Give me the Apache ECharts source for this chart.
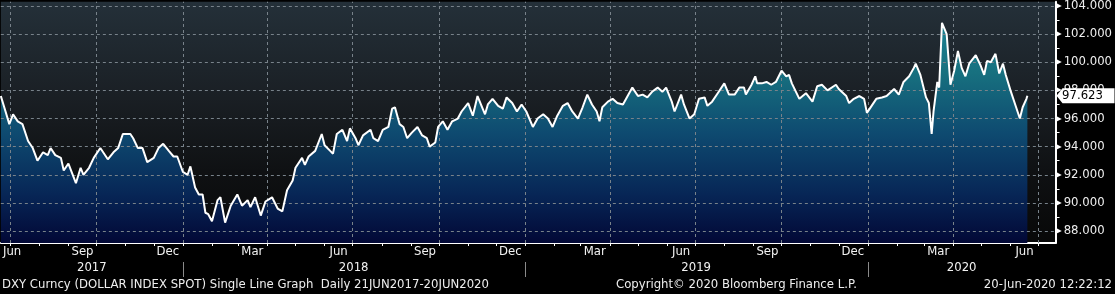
<!DOCTYPE html>
<html><head><meta charset="utf-8">
<script src="https://cdn.jsdelivr.net/npm/echarts@6/dist/echarts.min.js"></script>
<style>html,body{margin:0;padding:0;background:#000;}#c{width:1115px;height:294px;}</style>
</head><body><div id="c"></div>
<script>
const dates = ['2017-06-21','2017-06-26','2017-06-30','2017-07-04','2017-07-09','2017-07-14','2017-07-20','2017-07-25','2017-07-30','2017-08-05','2017-08-10','2017-08-13','2017-08-18','2017-08-24','2017-08-27','2017-09-01','2017-09-09','2017-09-14','2017-09-17','2017-09-23','2017-09-28','2017-10-05','2017-10-13','2017-10-19','2017-10-24','2017-10-29','2017-11-06','2017-11-09','2017-11-14','2017-11-19','2017-11-24','2017-12-01','2017-12-06','2017-12-11','2017-12-17','2017-12-22','2017-12-26','2018-01-01','2018-01-06','2018-01-09','2018-01-14','2018-01-18','2018-01-22','2018-01-25','2018-01-28','2018-02-01','2018-02-07','2018-02-10','2018-02-15','2018-02-21','2018-02-28','2018-03-05','2018-03-11','2018-03-14','2018-03-19','2018-03-25','2018-03-30','2018-04-06','2018-04-12','2018-04-17','2018-04-22','2018-04-28','2018-05-01','2018-05-08','2018-05-11','2018-05-15','2018-05-22','2018-05-29','2018-06-01','2018-06-07','2018-06-10','2018-06-14','2018-06-20','2018-06-25','2018-06-28','2018-07-04','2018-07-07','2018-07-12','2018-07-20','2018-07-23','2018-07-28','2018-08-02','2018-08-08','2018-08-12','2018-08-15','2018-08-20','2018-08-24','2018-08-28','2018-09-02','2018-09-08','2018-09-13','2018-09-18','2018-09-21','2018-09-27','2018-09-30','2018-10-05','2018-10-10','2018-10-15','2018-10-21','2018-10-25','2018-11-01','2018-11-06','2018-11-11','2018-11-19','2018-11-22','2018-11-27','2018-12-03','2018-12-08','2018-12-12','2018-12-18','2018-12-23','2018-12-28','2019-01-02','2019-01-09','2019-01-14','2019-01-20','2019-01-25','2019-01-30','2019-02-04','2019-02-10','2019-02-15','2019-02-20','2019-02-26','2019-03-03','2019-03-08','2019-03-13','2019-03-18','2019-03-21','2019-03-24','2019-03-30','2019-04-04','2019-04-09','2019-04-15','2019-04-20','2019-04-25','2019-05-01','2019-05-06','2019-05-11','2019-05-16','2019-05-22','2019-05-27','2019-05-31','2019-06-06','2019-06-09','2019-06-16','2019-06-19','2019-06-25','2019-06-30','2019-07-05','2019-07-11','2019-07-14','2019-07-19','2019-07-25','2019-08-01','2019-08-06','2019-08-12','2019-08-17','2019-08-22','2019-08-24','2019-08-30','2019-09-03','2019-09-05','2019-09-10','2019-09-15','2019-09-20','2019-09-25','2019-10-01','2019-10-06','2019-10-09','2019-10-12','2019-10-20','2019-10-27','2019-11-03','2019-11-08','2019-11-13','2019-11-19','2019-11-28','2019-12-01','2019-12-09','2019-12-12','2019-12-17','2019-12-23','2019-12-28','2019-12-31','2020-01-05','2020-01-10','2020-01-16','2020-01-21','2020-01-29','2020-02-03','2020-02-08','2020-02-14','2020-02-19','2020-02-21','2020-02-26','2020-03-03','2020-03-06','2020-03-09','2020-03-11','2020-03-15','2020-03-17','2020-03-20','2020-03-22','2020-03-25','2020-03-29','2020-04-02','2020-04-06','2020-04-10','2020-04-14','2020-04-18','2020-04-25','2020-04-30','2020-05-04','2020-05-07','2020-05-11','2020-05-16','2020-05-20','2020-05-24','2020-05-27','2020-06-01','2020-06-07','2020-06-11','2020-06-14','2020-06-18','2020-06-19'];
const values = [97.6,96.5,95.6,96.3,95.8,95.6,94.4,93.9,93.0,93.6,93.4,93.9,93.4,93.2,92.3,92.8,91.4,92.5,92.0,92.5,93.2,93.9,93.1,93.6,93.9,94.9,94.9,94.6,93.9,93.9,92.9,93.2,93.9,94.2,93.7,93.3,93.3,92.2,92.0,92.6,91.1,90.6,90.6,89.3,89.2,88.7,90.2,90.4,88.6,89.8,90.6,89.8,90.2,89.7,90.4,89.1,90.1,90.4,89.6,89.4,90.9,91.6,92.5,93.2,92.7,93.3,93.7,94.9,94.1,93.7,93.5,94.9,95.2,94.4,95.3,94.6,94.1,94.8,95.2,94.6,94.4,95.2,95.4,96.7,96.8,95.6,95.4,94.6,95.0,95.4,94.8,94.6,94.0,94.3,95.4,95.8,95.2,95.8,96.0,96.5,97.1,96.2,97.6,96.3,97.0,97.4,96.9,96.7,97.5,97.1,96.5,97.0,96.5,95.4,96.0,96.3,96.0,95.4,96.2,96.9,97.1,96.5,96.0,96.8,97.7,97.0,96.5,95.8,96.8,97.2,97.4,97.1,97.0,97.6,98.2,97.6,97.7,97.5,97.9,98.2,97.9,98.2,97.2,96.5,97.7,97.0,96.0,96.3,97.4,97.5,96.9,97.2,97.8,98.5,97.7,97.7,98.2,98.2,97.7,98.4,99.0,98.5,98.5,98.6,98.4,98.6,99.4,99.0,99.1,98.5,97.4,97.8,97.2,98.3,98.4,98.0,98.4,98.1,97.6,97.1,97.4,97.6,97.4,96.4,96.9,97.4,97.5,97.6,98.1,97.7,98.6,99.0,99.6,99.9,99.1,97.5,97.1,94.9,96.5,98.6,98.2,102.8,102.9,102.0,98.4,99.4,100.8,99.6,99.0,99.9,100.5,99.8,99.1,100.1,100.0,100.6,99.2,99.9,99.1,98.0,96.8,96.0,96.8,97.4,97.623];
const yTickLabels = [88,90,92,94,96,98,100,102,104];
const monthLabelTexts = ['Jun','Sep','Dec','Mar','Jun','Sep','Dec','Mar','Jun','Sep','Dec','Mar','Jun'];
const monthLabelDates = ['2017-07-03','2017-09-16','2017-12-16','2018-03-16','2018-06-16','2018-09-16','2018-12-16','2019-03-16','2019-06-16','2019-09-16','2019-12-16','2020-03-16','2020-06-16'];
const yearLabelTexts = ['2017','2018','2019','2020'];
const yearLabelDates = ['2017-09-26','2018-07-02','2019-07-02','2020-04-10'];
const yearSepDates = ['2018-01-01','2019-01-01','2020-01-01'];
const gridDates = ['2017-07-01','2017-10-01','2018-01-01','2018-04-01','2018-07-01','2018-10-01','2019-01-01','2019-04-01','2019-07-01','2019-10-01','2020-01-01','2020-04-01','2020-07-01'];
const lastValueText = '97.623';
const axisMinDate = '2017-06-21', axisMaxDate = '2020-07-19';
const yMin = 87.15, yMax = 104.3;
const footerLeft = 'DXY Curncy (DOLLAR INDEX SPOT) Single Line Graph  Daily 21JUN2017-20JUN2020';
const footerMid = 'Copyright\u00A9 2020 Bloomberg Finance L.P.';
const footerRight = '20-Jun-2020 12:22:12';

const FONT = 'DejaVu Sans';
const FS = 11.7;
function ts(s){const p=s.split('-').map(Number);return Date.UTC(p[0],p[1]-1,p[2]);}
const seriesData = dates.map((d,i)=>[ts(d), values[i]]);
const monthTicks = [];
for (let y=2017, m=6; y<2020 || (y===2020 && m<=6); ) { monthTicks.push(Date.UTC(y,m,1)); m++; if(m>11){m=0;y++;} }
const monthLabelTs = monthLabelDates.map(ts);
const yearLabelTs = yearLabelDates.map(ts);
const yMinor = []; for (let v=88; v<=104; v++) yMinor.push(v);
const lastVal = values[values.length-1];
const xMin = ts(axisMinDate), xMax = ts(axisMaxDate);

const chart = echarts.init(document.getElementById('c'), null, {renderer:'canvas'});
const gridLineStyle = {type:[3,3], color:'#78828a', width:1};
const footerFont = FS + 'px "DejaVu Sans"';
chart.setOption({
  backgroundColor:'#000',
  animation:false,
  grid:{left:0, right:58, top:0, bottom:51, show:true, borderWidth:0,
    backgroundColor:new echarts.graphic.LinearGradient(0,0,0,1,[
      {offset:0,color:'#243039'},{offset:0.4,color:'#1a1f24'},{offset:0.7,color:'#0f1113'},{offset:1,color:'#080808'}])},
  xAxis:[{
    type:'value', min:xMin, max:xMax, position:'bottom',
    axisLine:{show:true, lineStyle:{color:'#ffffff', width:2}},
    axisTick:{show:true, customValues:monthTicks, length:3, lineStyle:{color:'#ffffff', width:1}},
    axisLabel:{show:true, customValues:monthLabelTs, margin:3, color:'#f2f2f2', fontFamily:FONT, fontSize:FS,
      formatter:(v)=>{const i=monthLabelTs.indexOf(v);return i>=0?monthLabelTexts[i]:'';}},
    splitLine:{show:false}
  },{
    type:'value', min:xMin, max:xMax, position:'bottom', offset:19,
    axisLine:{show:false},
    axisTick:{show:true, customValues:yearSepDates.map(ts), length:15, lineStyle:{color:'#8a8a8a', width:1}},
    axisLabel:{show:true, customValues:yearLabelTs, margin:0, color:'#f2f2f2', fontFamily:FONT, fontSize:FS,
      formatter:(v)=>{const i=yearLabelTs.indexOf(v);return i>=0?yearLabelTexts[i]:'';}},
    splitLine:{show:false}
  }],
  yAxis:{
    type:'value', position:'right', min:yMin, max:yMax,
    axisLine:{show:true, lineStyle:{color:'#ffffff', width:2}},
    axisTick:{show:true, customValues:yMinor, length:4, lineStyle:{color:'#ffffff', width:1}},
    axisLabel:{show:true, customValues:yTickLabels, margin:0,
      formatter:(v)=>'{a|\u25B6}{b|'+v.toFixed(3)+'}',
      rich:{a:{fontSize:8, color:'#ffffff', fontFamily:FONT, padding:[0,2,0,0]},
            b:{fontSize:FS, color:'#eeeeee', fontFamily:FONT}}},
    splitLine:{show:false}
  },
  series:[{
    type:'line', xAxisIndex:0, data:seriesData, showSymbol:false, symbol:'none',
    lineStyle:{width:0}, z:2,
    areaStyle:{origin:'start', opacity:1, color:new echarts.graphic.LinearGradient(0,0,0,243,[
      {offset:0,color:'#1f8a9b'},{offset:0.3,color:'#17707f'},{offset:0.55,color:'#0e4a70'},{offset:0.8,color:'#072656'},{offset:1,color:'#020836'}],true)},
    markLine:{silent:true, symbol:['none','none'], label:{show:false}, lineStyle:gridLineStyle, animation:false,
      emphasis:{disabled:true},
      data:[...yTickLabels.map(v=>({yAxis:v})), ...gridDates.map(d=>({xAxis:ts(d)}))]}
  },{
    type:'line', xAxisIndex:0, data:seriesData, showSymbol:false, symbol:'none', z:10,
    lineStyle:{width:2, color:'#ffffff'},
    markPoint:{silent:true, animation:false,
      symbol:'path://M0,7.5L6,0L58,0L58,15L6,15Z', symbolSize:[58,15], symbolKeepAspect:false,
      symbolOffset:[30,0], itemStyle:{color:'#ffffff'},
      label:{show:true, position:'inside', offset:[-3,0], color:'#000000', fontFamily:FONT, fontSize:FS, formatter:lastValueText},
      data:[{coord:[xMax, lastVal]}]}
  }],
  graphic:[
    {type:'text', left:2, top:279, style:{text:footerLeft, fill:'#eeeeee', font:footerFont}},
    {type:'text', left:616, top:279, style:{text:footerMid, fill:'#eeeeee', font:footerFont}},
    {type:'text', right:3, top:279, style:{text:footerRight, fill:'#eeeeee', font:footerFont}}
  ]
});
</script></body></html>
